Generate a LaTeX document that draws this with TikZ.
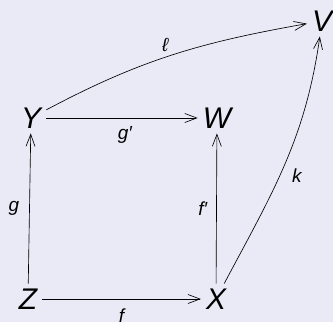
\documentclass[tikz,border=0pt]{standalone}
\usepackage{fontspec}
\setmainfont{Liberation Sans}
\usetikzlibrary{arrows.meta}
\definecolor{bg}{RGB}{234,234,246}
\begin{document}
\begin{tikzpicture}[x=1bp,y=1bp,
  obj/.style={font=\fontsize{30}{31}\selectfont\itshape, inner sep=5pt},
  lab/.style={font=\fontsize{19}{21}\selectfont\itshape, inner sep=1pt},
  arr/.style={-{Straight Barb[length=12bp,width=9bp]}, line width=0.65pt}]
\fill[bg] (0,0) rectangle (333,322);
\useasboundingbox (0,0) rectangle (333,322);
\node[obj] (Y) at (31,204) {Y};
\node[obj] (W) at (217,204) {W};
\node[obj] (Z) at (28,23) {Z};
\node[obj] (X) at (216,23) {X};
\node[obj] (V) at (322,301) {V};
\draw[arr] (Y) -- (W) node[lab, pos=0.52, below=7bp] {g′};
\draw[arr] (Z) -- (X) node[lab, pos=0.5, below=8bp] {f};
\draw[arr] (Z) -- (Y) node[lab, midway, left=9bp] {g};
\draw[arr] (X) -- (W) node[lab, midway, left=8bp] {f′};
\draw[arr] (Y) to[out=28, in=190] node[lab, pos=0.47, above=4bp] {ℓ} (V);
\draw[arr] (X) to[out=62, in=-98] node[lab, pos=0.45, right=11bp] {k} (V);
\end{tikzpicture}
\end{document}
